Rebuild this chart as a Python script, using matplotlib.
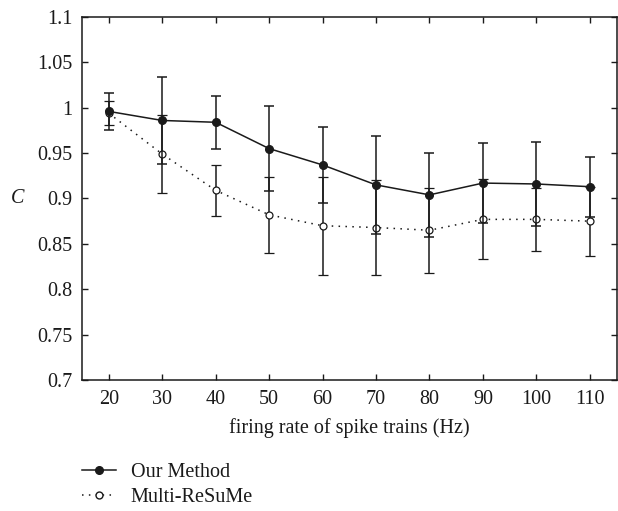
import matplotlib
matplotlib.use('Agg')
from matplotlib import pyplot as plt
from matplotlib.lines import Line2D

plt.rcParams['font.family'] = ['Liberation Serif', 'DejaVu Serif']
plt.rcParams['font.size'] = 14.5

#%%
rates = [20, 30, 40, 50, 60, 70, 80, 90, 100, 110]

ours = [0.996, 0.986, 0.984, 0.955, 0.937, 0.915, 0.904, 0.917, 0.916, 0.913]
ours_err = [0.020, 0.048, 0.029, 0.047, 0.042, 0.054, 0.046, 0.044, 0.046, 0.033]

resume = [0.994, 0.949, 0.909, 0.882, 0.870, 0.868, 0.865, 0.877, 0.877, 0.875]
resume_err = [0.0135, 0.043, 0.028, 0.042, 0.054, 0.052, 0.047, 0.044, 0.035, 0.038]

xticks = [20, 30, 40, 50, 60, 70, 80, 90, 100, 110]
yticks = [0.7, 0.75, 0.8, 0.85, 0.9, 0.95, 1.0, 1.05, 1.1]
ytick_labels = ['0.7', '0.75', '0.8', '0.85', '0.9', '0.95', '1', '1.05', '1.1']

#%%
ink = '#1a1a1a'
dots = (0, (1, 3.5))
fig = plt.figure(figsize=(6.18, 5.11), dpi=100)
ax = fig.add_axes([0.1327, 0.2564, 0.865, 0.7103])

ax.errorbar(rates, ours, yerr=ours_err, color=ink, lw=1.1, marker='o',
            ms=5.5, mfc=ink, mec=ink, capsize=3.3, elinewidth=1.1,
            capthick=1.1, zorder=3)
ax.errorbar(rates, resume, yerr=resume_err, color=ink, lw=1.1, ls=dots,
            marker='o', ms=5, mfc='white', mec=ink, mew=0.9, capsize=3.3,
            elinewidth=1.1, capthick=1.1, zorder=2)

ax.set_xlim(15, 115)
ax.set_ylim(0.7, 1.1)
ax.set_xticks(xticks)
ax.set_yticks(yticks)
ax.set_yticklabels(ytick_labels)
ax.tick_params(direction='in', top=True, right=True, length=4, width=1,
               color=ink, labelcolor=ink, pad=7)
for s in ax.spines.values():
    s.set_linewidth(1.1)
    s.set_color(ink)

ax.set_xlabel('firing rate of spike trains (Hz)', color=ink, labelpad=7)
ax.set_ylabel('C', style='italic', rotation=0, color=ink, labelpad=14, va='center')

leg_handles = [
    Line2D([], [], color=ink, lw=1.1, marker='o', ms=5.5, mfc=ink, mec=ink),
    Line2D([], [], color=ink, lw=1.1, ls=dots, marker='o', ms=5, mfc='white', mec=ink),
]
fig.legend(leg_handles, ['Our Method', 'Multi-ReSuMe'], loc='upper left',
           bbox_to_anchor=(0.12, 0.11), frameon=False, handlelength=1.7,
           handletextpad=0.7, labelspacing=0.3, borderaxespad=0,
           labelcolor=ink)

fig.savefig('out.png', dpi=100)
